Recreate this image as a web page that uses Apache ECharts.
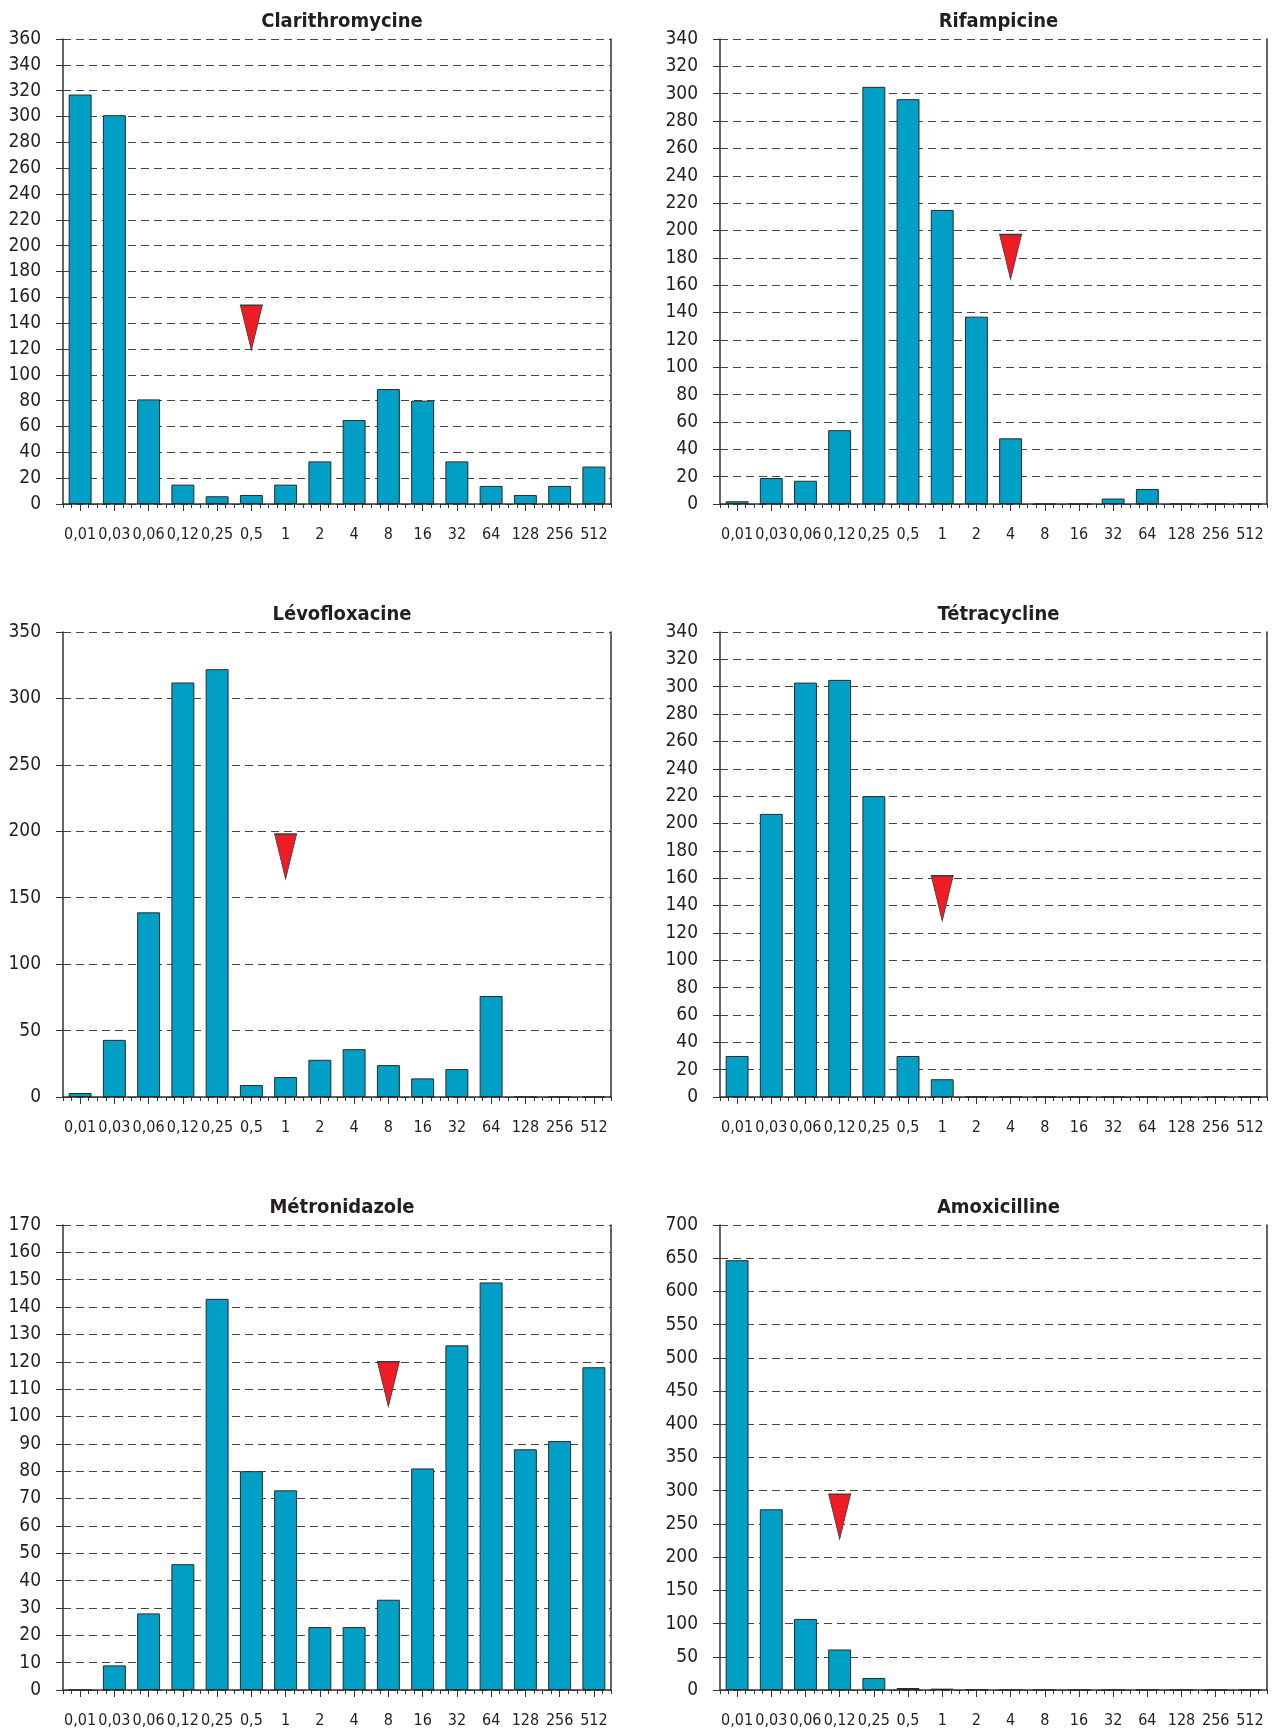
<!DOCTYPE html>
<html>
<head>
<meta charset="utf-8">
<script src="https://cdn.jsdelivr.net/npm/echarts@6/dist/echarts.min.js"></script>
<style>
html,body{margin:0;padding:0;background:#fff;}
#c{width:1280px;height:1733px;}
</style>
</head>
<body>
<div id="c"></div>
<script>
// ---- data ----
const categories = ['0,01','0,03','0,06','0,12','0,25','0,5','1','2','4','8','16','32','64','128','256','512'];
const titles = ['Clarithromycine','Rifampicine','Lévofloxacine','Tétracycline','Métronidazole','Amoxicilline'];
const clarithromycine = [317,301,81,15,6,7,15,33,65,89,80,33,14,7,14,29];
const rifampicine     = [2,19,17,54,305,296,215,137,48,0,0,4,11,0,0,0];
const levofloxacine   = [3,43,139,312,322,9,15,28,36,24,14,21,76,0,0,0];
const tetracycline    = [30,207,303,305,220,30,13,0,0,0,0,0,0,0,0,0];
const metronidazole   = [0,9,28,46,143,80,73,23,23,33,81,126,149,88,91,118];
const amoxicilline    = [647,272,107,61,18,3,2,1,0,0,0,0,0,0,0,0];
const yMax      = [360,340,350,340,170,700];
const yInterval = [20,20,50,20,10,50];
// breakpoint markers (category, centre value of the triangle)
const markerCategory = ['0,5','4','1','1','8','0,12'];
const markerValue    = [136.5,180.6,181,145.3,111.8,261];

const seriesData = [clarithromycine, rifampicine, levofloxacine, tetracycline, metronidazole, amoxicilline];

// ---- layout ----
const FONT = '"Liberation Sans Narrow","DejaVu Sans Condensed","Arial Narrow",sans-serif';
const colLeft = [63, 720];
const colWidth = [548, 547];
const rowTop = [39, 632, 1225];
const gridH = 465;
const axisColor = '#333';
const textColor = '#231f20';
const minorCats = Array.from({length: categories.length * 4}, () => '');

const grid = [], xAxis = [], yAxis = [], series = [], title = [];
for (let k = 0; k < 6; k++) {
  const col = k % 2, row = Math.floor(k / 2);
  grid.push({left: colLeft[col], top: rowTop[row], width: colWidth[col], height: gridH, containLabel: false});
  title.push({
    text: titles[k],
    left: colLeft[col] + colWidth[col] / 2,
    top: rowTop[row] - 32,
    textAlign: 'center',
    textStyle: {fontFamily: FONT, fontWeight: 'bold', fontSize: 20, color: textColor}
  });
  xAxis.push({
    type: 'category', gridIndex: k, data: categories, position: 'bottom',
    axisLine: {show: true, lineStyle: {color: axisColor, width: 1.5}},
    axisTick: {show: true, alignWithLabel: true, length: 7, lineStyle: {color: axisColor}},
    axisLabel: {interval: 0, margin: 23, fontFamily: FONT, fontSize: 16, color: textColor},
    splitLine: {show: false}
  });
  xAxis.push({
    type: 'category', gridIndex: k, data: minorCats, position: 'bottom', boundaryGap: true,
    axisLine: {show: false},
    axisTick: {show: true, interval: 0, length: 4, lineStyle: {color: axisColor}},
    axisLabel: {show: false},
    splitLine: {show: false}
  });
  yAxis.push({
    type: 'value', gridIndex: k, min: 0, max: yMax[k], interval: yInterval[k], position: 'left',
    axisLine: {show: true, lineStyle: {color: axisColor, width: 1.5}},
    axisTick: {show: true, length: 7, lineStyle: {color: axisColor}},
    axisLabel: {margin: 22, fontFamily: FONT, fontSize: 19, color: textColor},
    splitLine: {show: true, lineStyle: {color: '#444', width: 1, type: [8, 5]}}
  });
  yAxis.push({
    type: 'value', gridIndex: k, min: 0, max: yMax[k], interval: yInterval[k], position: 'right',
    axisLine: {show: true, lineStyle: {color: axisColor, width: 1.5}},
    axisTick: {show: false}, axisLabel: {show: false}, splitLine: {show: false}
  });
  series.push({
    type: 'bar', xAxisIndex: 2 * k, yAxisIndex: 2 * k, data: seriesData[k],
    barCategoryGap: '33%',
    itemStyle: {color: '#00a0c6', borderColor: '#2a2a2a', borderWidth: 1},
    silent: true
  });
  series.push({
    type: 'scatter', xAxisIndex: 2 * k, yAxisIndex: 2 * k,
    data: [[markerCategory[k], markerValue[k]]],
    symbol: 'path://M0,0L20,0L10,44Z', symbolSize: [22, 45], symbolKeepAspect: false,
    itemStyle: {color: '#ee1c25', borderColor: '#3a3a3a', borderWidth: 1, opacity: 1},
    z: 5, silent: true
  });
}

const chart = echarts.init(document.getElementById('c'), null, {renderer: 'canvas'});
chart.setOption({
  backgroundColor: '#fff',
  animation: false,
  title, grid, xAxis, yAxis, series
});
</script>
</body>
</html>
